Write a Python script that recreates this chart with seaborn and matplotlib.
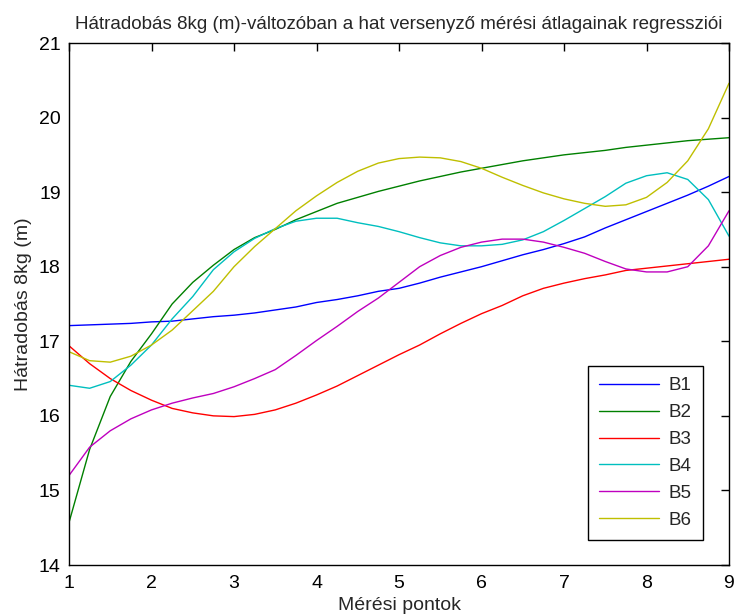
import matplotlib
matplotlib.use("Agg")
import matplotlib.pyplot as plt
import numpy as np
import pandas as pd
import seaborn as sns

# Measurement points (x axis)
x_points = [1.0, 1.25, 1.5, 1.75, 2.0, 2.25, 2.5, 2.75, 3.0, 3.25, 3.5, 3.75,
            4.0, 4.25, 4.5, 4.75, 5.0, 5.25, 5.5, 5.75, 6.0, 6.25, 6.5, 6.75,
            7.0, 7.25, 7.5, 7.75, 8.0, 8.25, 8.5, 8.75, 9.0]

# Regression curves of the six competitors
b1 = [17.21, 17.22, 17.23, 17.24, 17.26, 17.27, 17.30, 17.33, 17.35, 17.38, 17.42, 17.46,
      17.52, 17.56, 17.61, 17.67, 17.71, 17.78, 17.86, 17.93, 18.00, 18.08, 18.16, 18.23,
      18.31, 18.40, 18.52, 18.63, 18.74, 18.85, 18.96, 19.08, 19.21]
b2 = [14.57, 15.55, 16.26, 16.73, 17.10, 17.50, 17.79, 18.02, 18.23, 18.39, 18.50, 18.63,
      18.74, 18.85, 18.93, 19.01, 19.08, 19.15, 19.21, 19.27, 19.32, 19.37, 19.42, 19.46,
      19.50, 19.53, 19.56, 19.60, 19.63, 19.66, 19.69, 19.71, 19.73]
b3 = [16.94, 16.70, 16.50, 16.34, 16.21, 16.10, 16.04, 16.00, 15.99, 16.02, 16.08, 16.17,
      16.28, 16.40, 16.54, 16.68, 16.82, 16.95, 17.10, 17.24, 17.37, 17.48, 17.61, 17.71,
      17.78, 17.84, 17.89, 17.95, 17.98, 18.01, 18.04, 18.07, 18.10]
b4 = [16.41, 16.37, 16.46, 16.68, 16.95, 17.30, 17.60, 17.96, 18.20, 18.38, 18.51, 18.61,
      18.65, 18.65, 18.59, 18.54, 18.47, 18.39, 18.32, 18.28, 18.28, 18.30, 18.36, 18.47,
      18.62, 18.78, 18.94, 19.12, 19.22, 19.26, 19.17, 18.90, 18.41]
b5 = [15.20, 15.58, 15.80, 15.96, 16.08, 16.17, 16.24, 16.30, 16.39, 16.50, 16.62, 16.81,
      17.01, 17.20, 17.40, 17.58, 17.79, 18.00, 18.15, 18.26, 18.33, 18.37, 18.37, 18.33,
      18.26, 18.18, 18.07, 17.97, 17.93, 17.93, 18.00, 18.28, 18.75]
b6 = [16.86, 16.74, 16.72, 16.80, 16.95, 17.15, 17.41, 17.67, 18.00, 18.27, 18.51, 18.75,
      18.95, 19.13, 19.28, 19.39, 19.45, 19.47, 19.46, 19.41, 19.32, 19.20, 19.09, 18.99,
      18.91, 18.85, 18.81, 18.83, 18.93, 19.13, 19.42, 19.85, 20.46]

series_names = ["B1", "B2", "B3", "B4", "B5", "B6"]
x_ticks = [1, 2, 3, 4, 5, 6, 7, 8, 9]
y_ticks = [14, 15, 16, 17, 18, 19, 20, 21]

title_text = "Hátradobás 8kg (m)-változóban a hat versenyző mérési átlagainak regressziói"
x_label = "Mérési pontok"
y_label = "Hátradobás 8kg (m)"

frames = []
for name, vals in zip(series_names, [b1, b2, b3, b4, b5, b6]):
    frames.append(pd.DataFrame({"x": x_points, "y": vals, "series": name}))
df = pd.concat(frames, ignore_index=True)

sns.set_theme(style="white")
plt.rcParams["font.family"] = ["Liberation Sans", "DejaVu Sans"]

palette = {
    "B1": (0.0, 0.0, 1.0),
    "B2": (0.0, 0.5, 0.0),
    "B3": (1.0, 0.0, 0.0),
    "B4": (0.0, 0.75, 0.75),
    "B5": (0.75, 0.0, 0.75),
    "B6": (0.75, 0.75, 0.0),
}

fig = plt.figure(figsize=(7.38, 6.15), dpi=100)
ax = fig.add_axes([69 / 738, 1 - 565 / 615, 660 / 738, 522 / 615])

sns.lineplot(data=df, x="x", y="y", hue="series", palette=palette,
             linewidth=1.0, ax=ax, legend=True)

ax.set_xlim(1, 9)
ax.set_ylim(14, 21)
ax.set_xticks(x_ticks)
ax.set_yticks(y_ticks)
ax.tick_params(direction="in", length=6, width=1, top=True, right=True,
               labelsize=14, colors="black")
ax.tick_params(axis="x", pad=7)
ax.tick_params(axis="y", pad=6)
for s in ax.spines.values():
    s.set_visible(True)
    s.set_color("black")
    s.set_linewidth(1.0)

ax.set_xlabel(x_label, fontsize=14, labelpad=4)
ax.set_ylabel(y_label, fontsize=14, labelpad=5)
ax.set_title(title_text, fontsize=13.5, pad=10)

handles, labels = ax.get_legend_handles_labels()
leg = ax.legend(handles, labels, loc="lower right", bbox_to_anchor=(0.9606, 0.048),
                borderaxespad=0, frameon=True, fancybox=False, edgecolor="black",
                framealpha=1, fontsize=13.5, handlelength=3.2, labelspacing=0.52,
                borderpad=0.6, handletextpad=0.5)
leg.get_frame().set_linewidth(1.0)

fig.savefig("out.png", dpi=100)
